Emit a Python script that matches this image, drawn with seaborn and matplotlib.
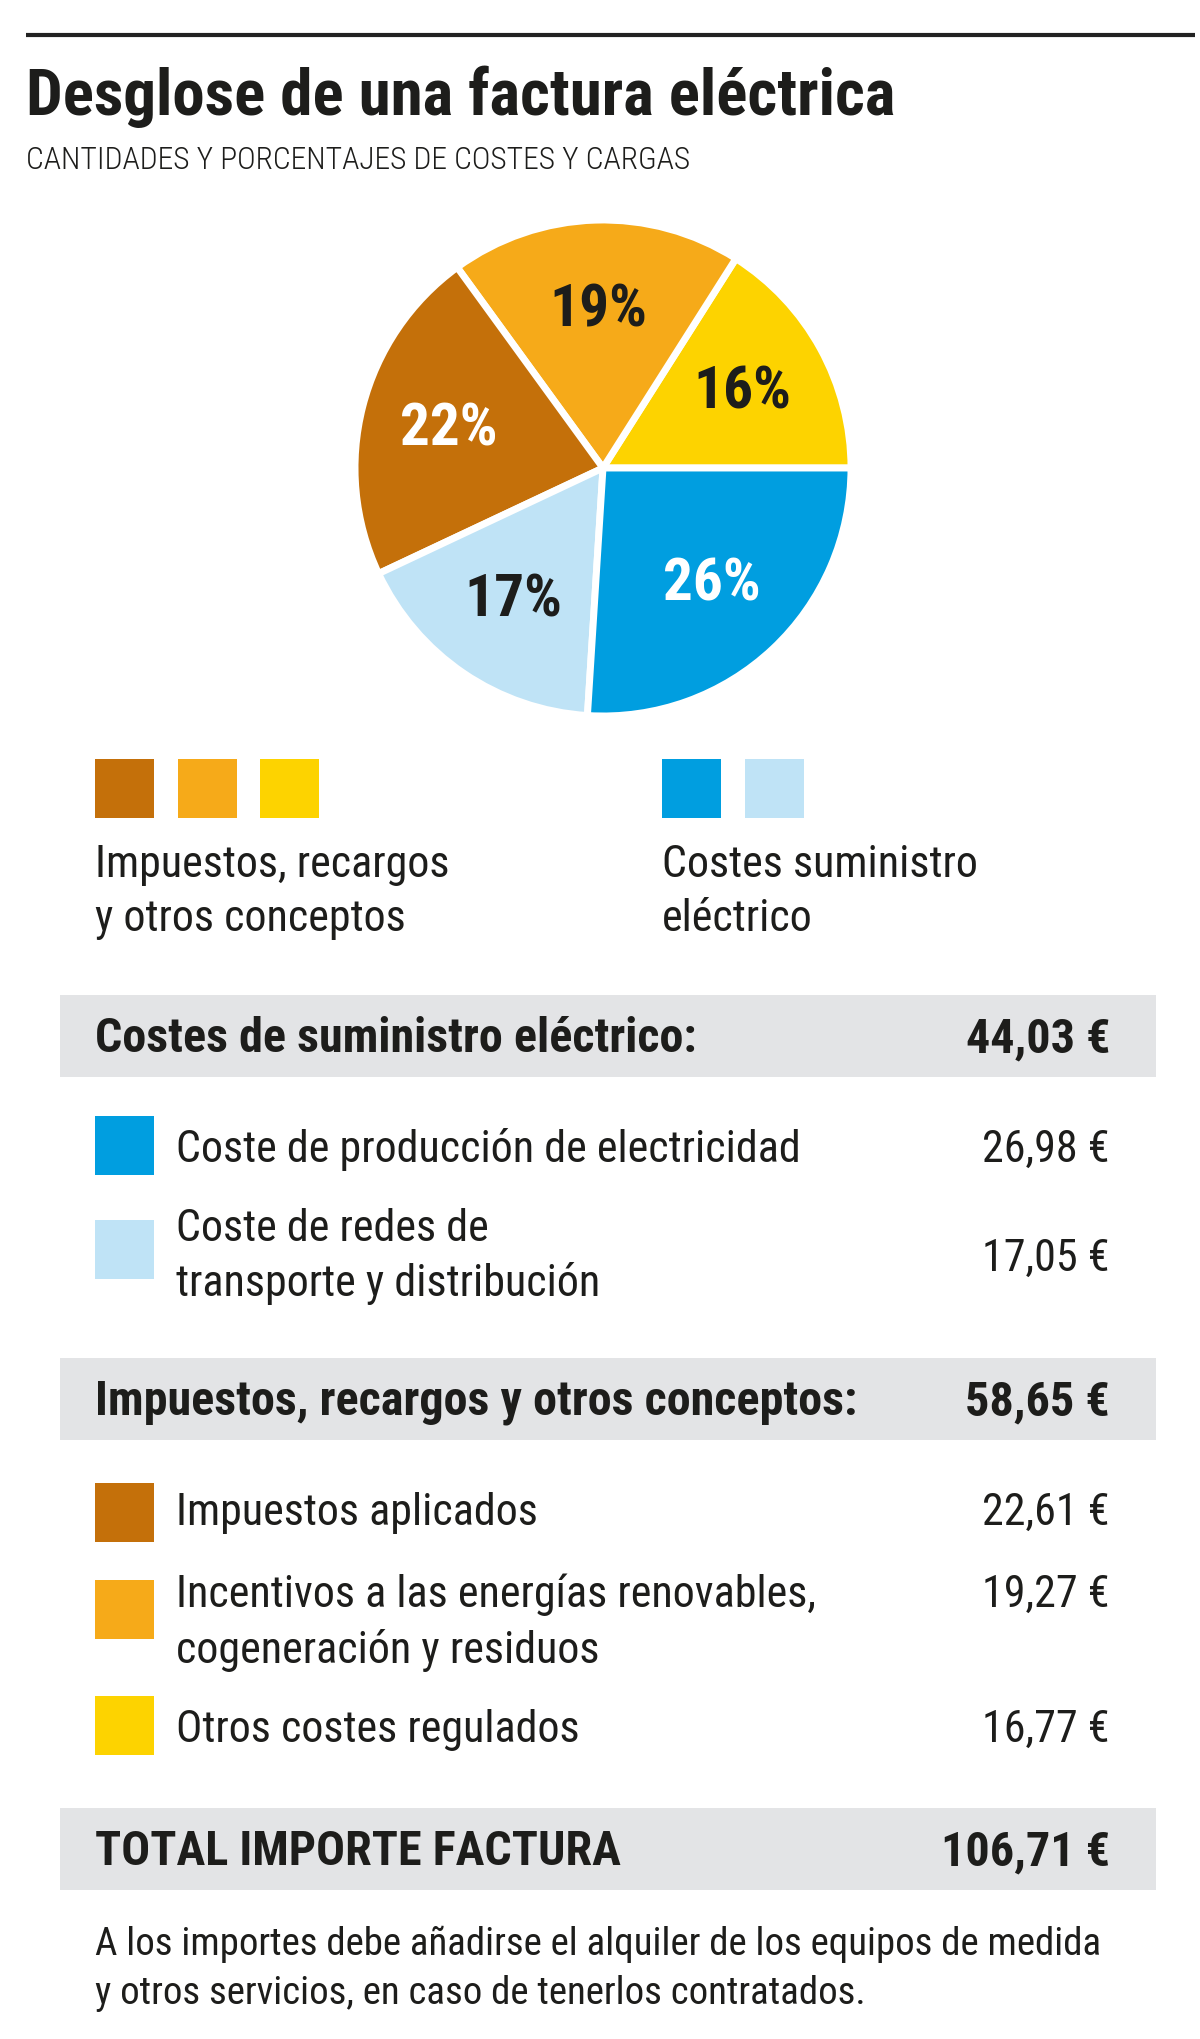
import os
import matplotlib
matplotlib.use("Agg")
import matplotlib.pyplot as plt
from matplotlib.patches import Rectangle
from matplotlib import font_manager as fm
from matplotlib.font_manager import FontProperties
import seaborn as sns

# ---------------- data ----------------
title = "Desglose de una factura eléctrica"
subtitle = "CANTIDADES Y PORCENTAJES DE COSTES Y CARGAS"

# pie slices, counter-clockwise from 3 o'clock
slice_names = ["Otros costes regulados", "Incentivos", "Impuestos aplicados",
               "Coste de redes", "Coste de producción"]
slice_pct = [16, 19, 22, 17, 26]
slice_colors = ["#fdd300", "#f6aa19", "#c4700a", "#bfe3f6", "#009ee0"]
slice_label_colors = ["#1d1d1b", "#1d1d1b", "#ffffff", "#1d1d1b", "#ffffff"]

legend_groups = [["Impuestos, recargos", "y otros conceptos"],
                 ["Costes suministro", "eléctrico"]]
legend_group_colors = [["#c4700a", "#f6aa19", "#fdd300"],
                       ["#009ee0", "#bfe3f6"]]

section_titles = ["Costes de suministro eléctrico:",
                  "Impuestos, recargos y otros conceptos:"]
section_totals = ["44,03 €", "58,65 €"]

item_labels = [["Coste de producción de electricidad"],
               ["Coste de redes de", "transporte y distribución"],
               ["Impuestos aplicados"],
               ["Incentivos a las energías renovables,", "cogeneración y residuos"],
               ["Otros costes regulados"]]
item_values = ["26,98 €", "17,05 €", "22,61 €", "19,27 €", "16,77 €"]
item_colors = ["#009ee0", "#bfe3f6", "#c4700a", "#f6aa19", "#fdd300"]

total_label = "TOTAL IMPORTE FACTURA"
total_value = "106,71 €"

footer = ["A los importes debe añadirse el alquiler de los equipos de medida",
          "y otros servicios, en caso de tenerlos contratados."]

# ---------------- style ----------------
sns.set_theme(style="white")
palette = sns.color_palette(slice_colors)
TXT = "#1d1d1b"
BAND = "#e3e4e6"

_files = {}
for f in fm.fontManager.ttflist:
    _files.setdefault(os.path.basename(f.fname).lower(), f.fname)


def find_font(names, weight):
    for n in names:
        p = _files.get(n.lower())
        if p:
            return FontProperties(fname=p)
    return FontProperties(family=["Open Sans", "DejaVu Sans"], weight=weight)


REG = ["NotoSans-Condensed.ttf", "NotoSans-CondensedRegular.ttf",
       "RobotoCondensed-Regular.ttf", "OpenSans-CondensedRegular.ttf",
       "LiberationSansNarrow-Regular.ttf", "DejaVuSansCondensed.ttf"]
LIGHT = ["NotoSans-CondensedLight.ttf", "RobotoCondensed-Light.ttf",
         "OpenSans-CondensedLight.ttf"] + REG
BOLD = ["NotoSans-CondensedBold.ttf", "RobotoCondensed-Bold.ttf",
        "OpenSans-CondensedBold.ttf", "LiberationSansNarrow-Bold.ttf",
        "DejaVuSansCondensed-Bold.ttf"]
BLACK = ["NotoSans-CondensedBlack.ttf", "NotoSans-CondensedExtraBold.ttf",
         "RobotoCondensed-Black.ttf", "RobotoCondensed-ExtraBold.ttf"] + BOLD

f_reg = find_font(REG, "normal")
f_light = find_font(LIGHT, "light")
f_bold = find_font(BOLD, "bold")
f_black = find_font(BLACK, "heavy")

W, H = 1200, 2040
fig = plt.figure(figsize=(W / 100, H / 100), dpi=100)
fig.patch.set_facecolor("white")
ax = fig.add_axes([0, 0, 1, 1])
ax.set_xlim(0, W)
ax.set_ylim(H, 0)
ax.axis("off")
renderer = fig.canvas.get_renderer()


def fit(text, fp, target_w, base=30.0):
    t = ax.text(0, 0, text, fontproperties=fp, fontsize=base)
    w = t.get_window_extent(renderer).width
    t.remove()
    return base * target_w / w


def put(x, y, s, fp, size, ha="left", color=TXT):
    ax.text(x, y, s, fontproperties=fp, fontsize=size, ha=ha, va="baseline",
            color=color)


# font sizes fitted to reference widths
s_title = fit(title, f_black, 869)
s_sub = fit(subtitle, f_light, 665)
s_body = fit(item_labels[0][0], f_reg, 623)
s_head = fit(section_titles[1], f_bold, 764)
s_foot = fit(footer[0], f_reg, 1006)
s_pct = fit("19%", f_bold, 98)

# top rule
ax.plot([26, 1195], [36, 36], color="#222222", lw=3, solid_capstyle="butt")

put(26, 115, title, f_black, s_title)
put(26, 169, subtitle, f_light, s_sub)

# ---------------- pie ----------------
cx, cy, R = 603, 469, 248
pad = 1.04
side = 2 * R * pad
axp = fig.add_axes([(cx - side / 2) / W, 1 - (cy + side / 2) / H, side / W, side / H])
wedges, _, autotexts = axp.pie(
    slice_pct, colors=palette, startangle=0, counterclock=True,
    autopct=lambda p: f"{p:.0f}%", pctdistance=0.64,
    wedgeprops=dict(edgecolor="white", linewidth=5),
)
for t, c in zip(autotexts, slice_label_colors):
    t.set_fontproperties(f_bold)
    t.set_fontsize(s_pct)
    t.set_color(c)
axp.set_xlim(-pad, pad)
axp.set_ylim(-pad, pad)
axp.set_aspect("equal")
axp.axis("off")

# ---------------- legend ----------------
sq = 59
leg_x = [95, 662]
for gx, names, cols in zip(leg_x, legend_groups, legend_group_colors):
    for i, c in enumerate(cols):
        ax.add_patch(Rectangle((gx + i * 82.5, 760), sq, sq, color=c, lw=0))
    put(gx, 877, names[0], f_reg, s_body)
    put(gx, 931, names[1], f_reg, s_body)

# ---------------- table ----------------
band_x0, band_x1, band_h = 60, 1156, 82
val_x = 1110


def band(y_top, label, value):
    ax.add_patch(Rectangle((band_x0, y_top), band_x1 - band_x0, band_h,
                           color=BAND, lw=0))
    put(95, y_top + 56, label, f_bold, s_head)
    put(val_x, y_top + 56, value, f_bold, s_head, ha="right")


band(996, section_titles[0], section_totals[0])
band(1359, section_titles[1], section_totals[1])
band(1809, total_label, total_value)

# rows: square top, label baselines, value baseline
row_sq = [1117, 1221, 1484, 1581, 1697]
row_base = [[1162], [1241, 1296], [1525], [1607, 1663], [1742]]
row_val = [1162, 1271, 1525, 1607, 1742]
for i in range(len(item_labels)):
    ax.add_patch(Rectangle((95, row_sq[i]), sq, sq, color=item_colors[i], lw=0))
    for line, yb in zip(item_labels[i], row_base[i]):
        put(176, yb, line, f_reg, s_body)
    put(val_x, row_val[i], item_values[i], f_reg, s_body, ha="right")

put(95, 1955, footer[0], f_reg, s_foot)
put(95, 2004, footer[1], f_reg, s_foot)

fig.savefig("out.png", dpi=100, facecolor="white")
